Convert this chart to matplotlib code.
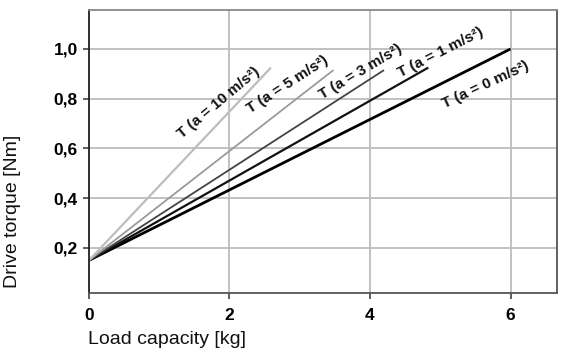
import matplotlib
matplotlib.use("Agg")
import matplotlib.pyplot as plt

plt.rcParams['font.family'] = ['Liberation Sans', 'DejaVu Sans']

# acceleration curves: torque vs load, all start at 0 kg / 0.15 Nm
accel = [0, 1, 3, 5, 10]
load_end = [6.0, 4.83, 4.2, 3.48, 2.59]
torque_start = 0.15
torque_end = [1.0, 0.925, 0.915, 0.915, 0.925]

colors = ["#000000", "#111111", "#444444", "#9a9a9a", "#bdbdbd"]
widths = [2.0, 1.6, 1.3, 1.3, 1.6]

# label centres (data coords) and screen rotation
lab_x = [5.65, 5.0, 3.87, 2.83, 1.85]
lab_y = [0.856, 0.984, 0.908, 0.856, 0.784]
lab_rot = [25, 27, 31, 33, 40]

xticks = [0, 2, 4, 6]
yticks = [0.2, 0.4, 0.6, 0.8, 1.0]
ytick_labels = ["0,2", "0,4", "0,6", "0,8", "1,0"]

fig = plt.figure(figsize=(5.7, 3.53), dpi=100)
ax = fig.add_axes([0.156, 0.17, 0.821, 0.802])

ax.set_xlim(0, 6.66)
ax.set_ylim(0.019, 1.157)
ax.set_xticks(xticks)
ax.set_yticks(yticks)
ax.set_yticklabels(ytick_labels)
ax.grid(True, color="#bcbcbc", lw=1.3)
ax.set_axisbelow(True)

for i in range(len(accel)):
    ax.plot([0, load_end[i]], [torque_start, torque_end[i]],
            color=colors[i], lw=widths[i], solid_capstyle="butt")
    ax.text(lab_x[i], lab_y[i], "T (a = %d m/s²)" % accel[i],
            rotation=lab_rot[i], rotation_mode="anchor",
            ha="center", va="center", fontsize=11, fontweight="bold",
            color="#111111")

for s in ax.spines.values():
    s.set_color("#555555")
    s.set_linewidth(1.3)
ax.spines["top"].set_color("#888888")
ax.spines["left"].set_color("#222222")

ax.tick_params(direction="out", length=4, width=1.2, color="#444444",
               labelsize=12.5, pad=4)
ax.tick_params(axis="x", pad=7)
for lab in ax.get_xticklabels() + ax.get_yticklabels():
    lab.set_fontweight("bold")

ax.set_xlabel("Load capacity [kg]", fontsize=14, color="#111111", loc="left")
ax.set_ylabel("Drive torque [Nm]", fontsize=14, color="#111111", loc="bottom")
ax.xaxis.set_label_coords(-0.002, -0.135)
ax.yaxis.set_label_coords(-0.145, 0.018)

fig.savefig("out.png", dpi=100)
